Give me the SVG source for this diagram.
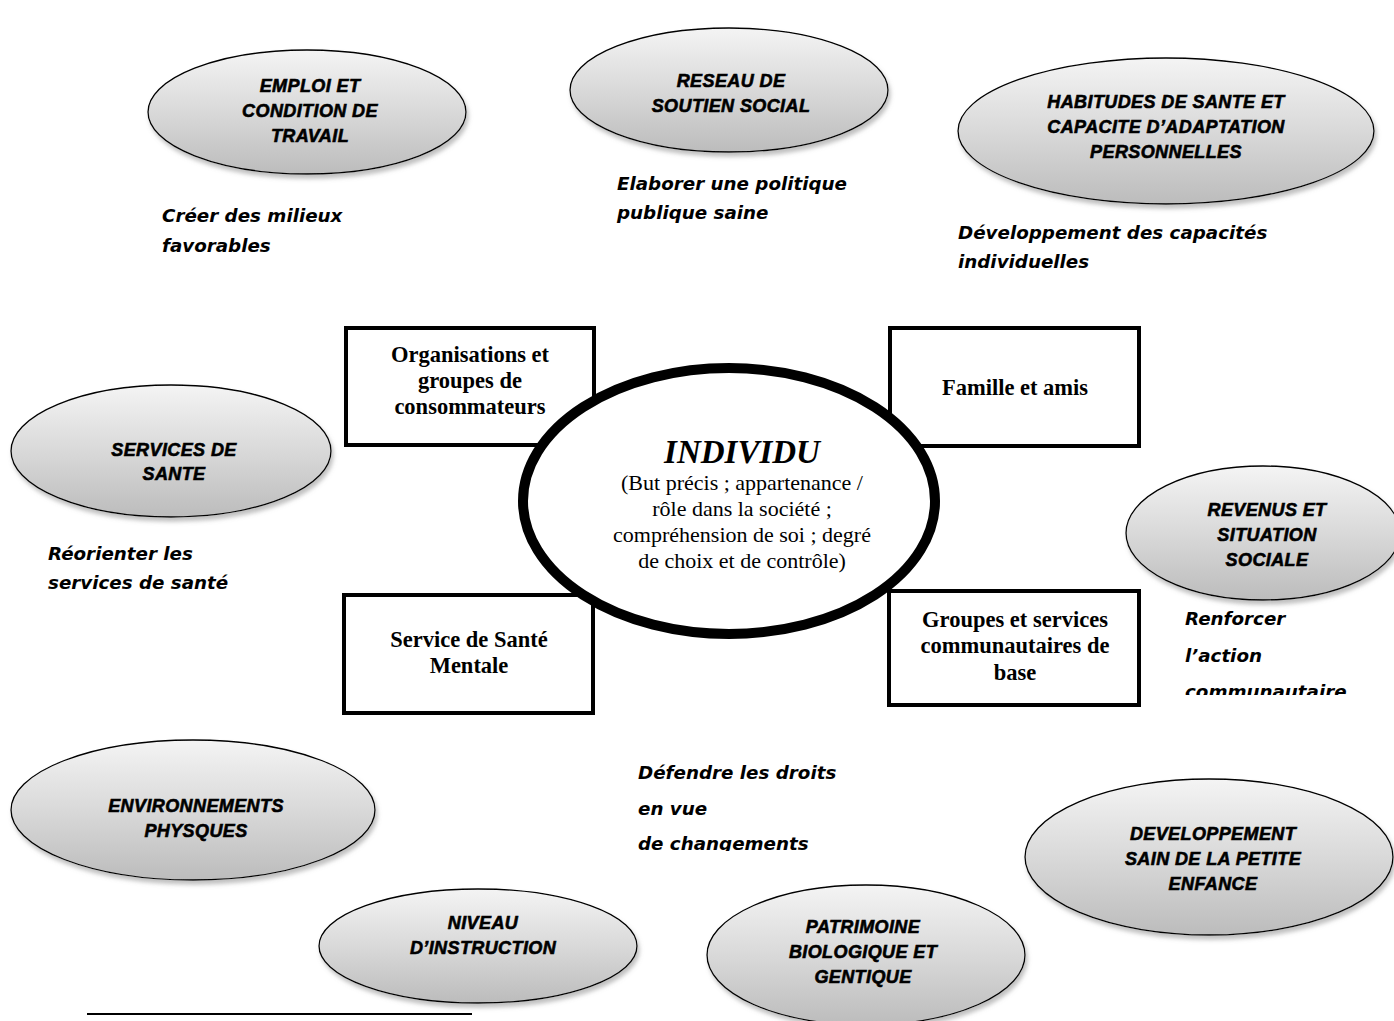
<svg xmlns="http://www.w3.org/2000/svg" width="1394" height="1021" viewBox="0 0 1394 1021">
<style>
.oval{fill:url(#g);stroke:#000;stroke-width:1.3;filter:url(#sh)}
.ot{font-family:"Liberation Sans",Arial,sans-serif;font-weight:bold;font-style:italic;font-size:18px;letter-spacing:0.4px;text-anchor:middle;fill:#000;stroke:#000;stroke-width:0.6}
.hw{font-family:"Comic Sans MS","DejaVu Sans",sans-serif;font-weight:bold;font-style:italic;font-size:18.3px;fill:#000}
.box{fill:#fff;stroke:#000;stroke-width:4}
.bt{font-family:"Liberation Serif","Times New Roman",serif;font-weight:bold;font-size:22.5px;text-anchor:middle;fill:#000}
.ct{font-family:"Liberation Serif","Times New Roman",serif;font-size:22px;text-anchor:middle;fill:#000}
</style>
<defs>
<linearGradient id="g" x1="0" y1="0" x2="0" y2="1">
<stop offset="0" stop-color="#f4f4f4"/>
<stop offset="0.5" stop-color="#d9d9d9"/>
<stop offset="1" stop-color="#bcbcbc"/>
</linearGradient>
<filter id="sh" x="-10%" y="-10%" width="125%" height="130%">
<feDropShadow dx="2" dy="4" stdDeviation="2" flood-color="#808080" flood-opacity="0.5"/>
</filter>
<clipPath id="c1"><rect x="1150" y="600" width="244" height="95"/></clipPath>
<clipPath id="c2"><rect x="600" y="750" width="300" height="101"/></clipPath>
</defs>
<rect width="1394" height="1021" fill="#fff"/>

<g id="emploi">
<ellipse class="oval" cx="307" cy="112" rx="159" ry="62"/>
<text class="ot" x="310" y="92">EMPLOI ET</text>
<text class="ot" x="310" y="117">CONDITION DE</text>
<text class="ot" x="310" y="142">TRAVAIL</text>
</g>
<g id="reseau">
<ellipse class="oval" cx="729" cy="90" rx="159" ry="62"/>
<text class="ot" x="731" y="87">RESEAU DE</text>
<text class="ot" x="731" y="112">SOUTIEN SOCIAL</text>
</g>
<g id="habitudes">
<ellipse class="oval" cx="1166" cy="131" rx="208" ry="73"/>
<text class="ot" x="1166" y="108">HABITUDES DE SANTE ET</text>
<text class="ot" x="1166" y="133">CAPACITE D’ADAPTATION</text>
<text class="ot" x="1166" y="158">PERSONNELLES</text>
</g>
<g id="services-sante">
<ellipse class="oval" cx="171" cy="451" rx="160" ry="66"/>
<text class="ot" x="174" y="456">SERVICES DE</text>
<text class="ot" x="174" y="480">SANTE</text>
</g>
<g id="revenus">
<ellipse class="oval" cx="1263" cy="533" rx="137" ry="67"/>
<text class="ot" x="1267" y="516">REVENUS ET</text>
<text class="ot" x="1267" y="541">SITUATION</text>
<text class="ot" x="1267" y="566">SOCIALE</text>
</g>
<g id="environnements">
<ellipse class="oval" cx="193" cy="810" rx="182" ry="70"/>
<text class="ot" x="196" y="812">ENVIRONNEMENTS</text>
<text class="ot" x="196" y="837">PHYSQUES</text>
</g>
<g id="niveau">
<ellipse class="oval" cx="478" cy="946" rx="159" ry="57"/>
<text class="ot" x="483" y="929">NIVEAU</text>
<text class="ot" x="483" y="954">D’INSTRUCTION</text>
</g>
<g id="patrimoine">
<ellipse class="oval" cx="866" cy="955" rx="159" ry="70"/>
<text class="ot" x="863" y="933">PATRIMOINE</text>
<text class="ot" x="863" y="958">BIOLOGIQUE ET</text>
<text class="ot" x="863" y="983">GENTIQUE</text>
</g>
<g id="developpement">
<ellipse class="oval" cx="1209" cy="857" rx="184" ry="78"/>
<text class="ot" x="1213" y="840">DEVELOPPEMENT</text>
<text class="ot" x="1213" y="865">SAIN DE LA PETITE</text>
<text class="ot" x="1213" y="890">ENFANCE</text>
</g>

<g id="labels">
<text class="hw" x="162" y="222">Créer des milieux</text>
<text class="hw" x="162" y="252">favorables</text>
<text class="hw" x="617" y="190">Elaborer une politique</text>
<text class="hw" x="617" y="219">publique saine</text>
<text class="hw" x="958" y="239">Développement des capacités</text>
<text class="hw" x="958" y="268">individuelles</text>
<text class="hw" x="48" y="560">Réorienter les</text>
<text class="hw" x="48" y="589">services de santé</text>
<g clip-path="url(#c1)">
<text class="hw" x="1185" y="625">Renforcer</text>
<text class="hw" x="1185" y="662">l’action</text>
<text class="hw" x="1185" y="698">communautaire</text>
</g>
<g clip-path="url(#c2)">
<text class="hw" x="638" y="779">Défendre les droits</text>
<text class="hw" x="638" y="815">en vue</text>
<text class="hw" x="638" y="850">de changements</text>
</g>
</g>

<g id="organisations">
<rect class="box" x="346" y="328" width="248" height="117"/>
<text class="bt" x="470" y="362">Organisations et</text>
<text class="bt" x="470" y="388">groupes de</text>
<text class="bt" x="470" y="414">consommateurs</text>
</g>
<g id="famille">
<rect class="box" x="890" y="328" width="249" height="118"/>
<text class="bt" x="1015" y="395">Famille et amis</text>
</g>
<g id="sante-mentale">
<rect class="box" x="344" y="595" width="249" height="118"/>
<text class="bt" x="469" y="647">Service de Santé</text>
<text class="bt" x="469" y="673">Mentale</text>
</g>
<g id="groupes">
<rect class="box" x="889" y="591" width="250" height="114"/>
<text class="bt" x="1015" y="627">Groupes et services</text>
<text class="bt" x="1015" y="653">communautaires de</text>
<text class="bt" x="1015" y="680">base</text>
</g>

<g id="individu">
<ellipse cx="729" cy="501" rx="206" ry="133" fill="#fff" stroke="#000" stroke-width="10"/>
<text class="ct" x="742" y="463" style="font-size:33px;font-style:italic;font-weight:bold">INDIVIDU</text>
<text class="ct" x="742" y="490">(But précis ; appartenance /</text>
<text class="ct" x="742" y="516">rôle dans la société ;</text>
<text class="ct" x="742" y="542">compréhension de soi ; degré</text>
<text class="ct" x="742" y="568">de choix et de contrôle)</text>
</g>

<g id="connectors"></g>

<line x1="87" y1="1014" x2="472" y2="1014" stroke="#000" stroke-width="2"/>
</svg>
